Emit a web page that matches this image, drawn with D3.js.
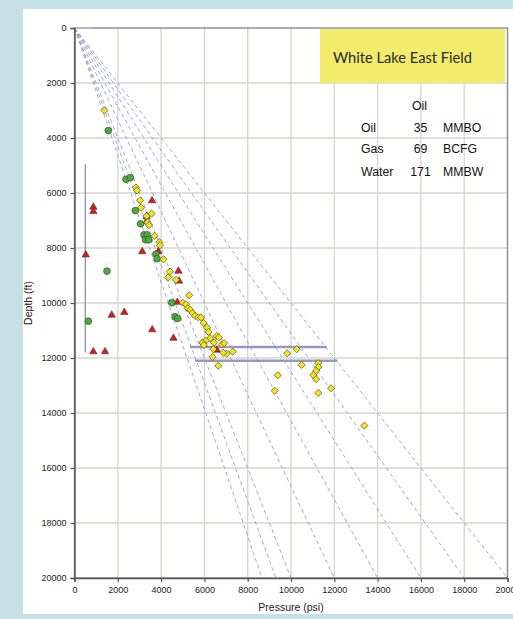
<!DOCTYPE html>
<html>
<head>
<meta charset="utf-8">
<script src="https://cdn.jsdelivr.net/npm/d3@7"></script>
<style>
  html, body { margin: 0; padding: 0; background: #c6e0e5; }
  svg { display: block; }
</style>
</head>
<body>
<svg id="chart" width="513" height="619"></svg>
<script>
// Axis ticks (psi and ft)
const pressureTicks = [0, 2000, 4000, 6000, 8000, 10000, 12000, 14000, 16000, 18000, 20000];
const depthTicks = [0, 2000, 4000, 6000, 8000, 10000, 12000, 14000, 16000, 18000, 20000];

// Pressure gradient reference lines (psi/ft), drawn from the surface to 20000 ft
const gradients = [0.433, 0.465, 0.5, 0.6, 0.7, 0.8, 0.9, 1.0];

// Measured pressures [pressure psi, depth ft]
const diamondPoints = [
  [1380, 3000], [2840, 5800], [2890, 5910], [3030, 6270], [3070, 6530],
  [3330, 6840], [3560, 6750], [3370, 7070], [3440, 7170], [3700, 7560],
  [3920, 7790], [3950, 7900], [4110, 8410], [4410, 8860], [4330, 9070],
  [4690, 9160], [5300, 9720], [5000, 9990], [5150, 10050], [5230, 10190],
  [5340, 10250], [5460, 10370], [5570, 10470], [5720, 10520], [5840, 10520],
  [5960, 10730], [6130, 10900], [6190, 11050], [6260, 11280], [6060, 11370],
  [5900, 11440], [5980, 11530], [6440, 11440], [6560, 11200], [6670, 11250],
  [6800, 11510], [6910, 11460], [7030, 11840], [7310, 11770], [6380, 11960],
  [6640, 12280], [6410, 11680], [6870, 11810],
  [9820, 11830], [10260, 11680], [10490, 12250], [11260, 12190], [11260, 12330],
  [11160, 12470], [11030, 12620], [11160, 12770], [9390, 12630], [9250, 13190],
  [11260, 13270], [11850, 13100], [13390, 14460]
];
const circlePoints = [
  [1560, 3730], [2380, 5500], [2580, 5440], [2810, 6640], [3050, 7120],
  [3210, 7520], [3360, 7520], [3280, 7700], [3430, 7700], [3760, 8220],
  [3810, 8390], [1500, 8840], [4490, 9990], [4640, 10500], [4760, 10560],
  [640, 10660]
];
const trianglePoints = [
  [3580, 6280], [870, 6510], [870, 6670], [3330, 6850], [3330, 7040],
  [3130, 8130], [3870, 8130], [520, 8250], [4800, 8840], [4830, 9200],
  [4750, 9970], [1720, 10440], [2300, 10340], [3590, 10970], [4570, 11280],
  [870, 11770], [1410, 11770], [6570, 11710]
];

// Annotation segments [[p1, d1], [p2, d2]]
const surfaceSegment = [[0, 0], [870, 0]];
const verticalMarker = [[500, 4950], [500, 11800]];
const pressureBands = [
  [[5340, 11600], [11650, 11600]],
  [[5570, 12100], [12140, 12100]]
];

// Field volumes
const volumeNames = ["Oil", "Gas", "Water"];
const volumeValues = [35, 69, 171];
const volumeUnits = ["MMBO", "BCFG", "MMBW"];

const svg = d3.select("#chart");

// White panel behind the chart
svg.append("rect").attr("x", 23).attr("y", 9).attr("width", 500).attr("height", 605).attr("fill", "#ffffff");

const x = d3.scaleLinear().domain([0, 20000]).range([74.5, 507.5]);
const y = d3.scaleLinear().domain([0, 20000]).range([28, 578]);

// Grid
const grid = svg.append("g");
grid.selectAll("line.v").data(pressureTicks.slice(1, -1)).join("line")
  .attr("x1", d => x(d)).attr("x2", d => x(d))
  .attr("y1", y(0)).attr("y2", y(20000))
  .attr("stroke", "#d6d6cc").attr("stroke-width", 1.3);
grid.selectAll("line.h").data(depthTicks.slice(1, -1)).join("line")
  .attr("x1", x(0)).attr("x2", x(20000))
  .attr("y1", d => y(d)).attr("y2", d => y(d))
  .attr("stroke", "#d6d6cc").attr("stroke-width", 1.3);

// Gradient fan
svg.append("g").selectAll("line").data(gradients).join("line")
  .attr("x1", x(0)).attr("y1", y(0))
  .attr("x2", g => x(g * 20000)).attr("y2", y(20000))
  .attr("stroke", "#9d9dcf").attr("stroke-width", 0.9)
  .attr("stroke-dasharray", "4,3");

// Plot border
svg.append("rect")
  .attr("x", x(0)).attr("y", y(0))
  .attr("width", x(20000) - x(0)).attr("height", y(20000) - y(0))
  .attr("fill", "none").attr("stroke", "#8a8a8a").attr("stroke-width", 1.4);

const seg = d3.line().x(d => x(d[0])).y(d => y(d[1]));

svg.append("path").attr("d", seg(surfaceSegment))
  .attr("stroke", "#b4b4da").attr("stroke-width", 1.6).attr("fill", "none");

svg.append("path").attr("d", seg(verticalMarker))
  .attr("stroke", "#9393bb").attr("stroke-width", 1.4).attr("fill", "none");

svg.append("g").selectAll("path").data(pressureBands).join("path")
  .attr("d", seg)
  .attr("stroke", "#9999c0").attr("stroke-width", 2.6).attr("fill", "none");

// Markers
const markerStroke = "#3a3a3a";
svg.append("g").selectAll("path").data(trianglePoints).join("path")
  .attr("d", d3.symbol(d3.symbolTriangle, 24)())
  .attr("transform", d => `translate(${x(d[0])},${y(d[1])})`)
  .attr("fill", "#e3161c").attr("stroke", markerStroke).attr("stroke-width", 0.6);

svg.append("g").selectAll("circle").data(circlePoints).join("circle")
  .attr("cx", d => x(d[0])).attr("cy", d => y(d[1])).attr("r", 3.4)
  .attr("fill", "#4cae3a").attr("stroke", markerStroke).attr("stroke-width", 0.6);

svg.append("g").selectAll("path").data(diamondPoints).join("path")
  .attr("d", d3.symbol(d3.symbolSquare, 26)())
  .attr("transform", d => `translate(${x(d[0])},${y(d[1])}) rotate(45)`)
  .attr("fill", "#f6e617").attr("stroke", markerStroke).attr("stroke-width", 0.6);

// Axes
const font = "Liberation Sans, Arial, sans-serif";
const yAxis = svg.append("g").attr("transform", `translate(${x(0)},0)`)
  .call(d3.axisLeft(y).tickValues(depthTicks).tickSize(4).tickPadding(4).tickFormat(d3.format("d")));
const xAxis = svg.append("g").attr("transform", `translate(0,${y(20000)})`)
  .call(d3.axisBottom(x).tickValues(pressureTicks).tickSize(4).tickPadding(5).tickFormat(d3.format("d")));
[xAxis, yAxis].forEach(a => {
  a.select(".domain").attr("stroke", "#555").attr("stroke-width", 1.4);
  a.selectAll(".tick line").attr("stroke", "#555").attr("stroke-width", 1.2);
  a.selectAll(".tick text").attr("fill", "#222").attr("font-family", font).attr("font-size", 9);
});

svg.append("text")
  .attr("transform", `translate(32,${(y(0) + y(20000)) / 2}) rotate(-90)`)
  .attr("text-anchor", "middle")
  .attr("font-family", font).attr("font-size", 10.5).attr("fill", "#222")
  .text("Depth (ft)");

svg.append("text")
  .attr("x", (x(0) + x(20000)) / 2).attr("y", 611)
  .attr("text-anchor", "middle")
  .attr("font-family", font).attr("font-size", 10.5).attr("fill", "#222")
  .text("Pressure (psi)");

// Title box
svg.append("rect").attr("x", 320).attr("y", 29).attr("width", 185).attr("height", 54)
  .attr("fill", "#f2eb6c");
svg.append("text").attr("x", 333).attr("y", 63)
  .attr("font-family", "Lato, 'Open Sans', sans-serif").attr("font-size", 14.5).attr("fill", "#2a2a2a")
  .attr("textLength", 139).attr("lengthAdjust", "spacingAndGlyphs")
  .text("White Lake East Field");

// Volume table
const table = svg.append("g").attr("font-family", font).attr("font-size", 12.3).attr("fill", "#111");
table.append("text").attr("x", 419.5).attr("y", 109.5).attr("text-anchor", "middle").text("Oil");
const rowY = [131.5, 153, 175.5];
volumeNames.forEach((n, i) => {
  table.append("text").attr("x", 361).attr("y", rowY[i]).text(n);
  table.append("text").attr("x", 420.5).attr("y", rowY[i]).attr("text-anchor", "middle").text(volumeValues[i]);
  table.append("text").attr("x", 443).attr("y", rowY[i]).text(volumeUnits[i]);
});
</script>
</body>
</html>
